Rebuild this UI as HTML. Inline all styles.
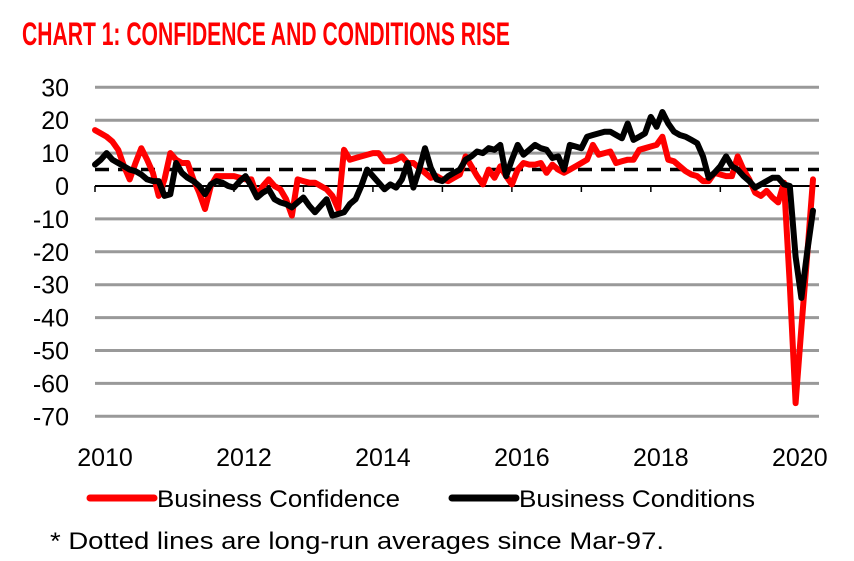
<!DOCTYPE html>
<html><head><meta charset="utf-8"><style>
html,body{margin:0;padding:0;background:#fff;}
svg{display:block;font-family:"Liberation Sans",sans-serif;}
</style></head><body>
<svg id="chart" width="854" height="561" viewBox="0 0 854 561" xmlns="http://www.w3.org/2000/svg">
<text x="22" y="45" fill="#ff0000" font-family="'Liberation Sans Narrow','Liberation Sans',sans-serif" font-weight="bold" font-size="32" textLength="488" lengthAdjust="spacingAndGlyphs">CHART 1: CONFIDENCE AND CONDITIONS RISE</text>
<g id="grid"></g>
<g id="yaxis"></g>
<g id="xaxis"></g>
<g id="series"></g>
<g>
<line x1="90" y1="498" x2="154" y2="498" stroke="#ff0000" stroke-width="7" stroke-linecap="round"/>
<text x="157" y="507" font-size="24" fill="#000" textLength="243" lengthAdjust="spacingAndGlyphs">Business Confidence</text>
<line x1="452" y1="498" x2="516" y2="498" stroke="#000" stroke-width="7" stroke-linecap="round"/>
<text x="519" y="507" font-size="24" fill="#000" textLength="236" lengthAdjust="spacingAndGlyphs">Business Conditions</text>
</g>
<text x="50" y="549" font-size="24" fill="#000" textLength="614" lengthAdjust="spacingAndGlyphs">* Dotted lines are long-run averages since Mar-97.</text>
</svg>
<script>
const yTicks = [30,20,10,0,-10,-20,-30,-40,-50,-60,-70];
const xYears = [2010,2012,2014,2016,2018,2020];
const avgLevel = [5];
const confidence = [17,16,15,13.5,11,6,2,7,11.5,8,4,-3,2,10,8,7,7,2,-2,-7,0,3,3,3,3,2.5,2,2,-3,0,2,0,-1,-4,-9,2,1.5,1,1,0,-1,-3,-7,11,8,8.5,9,9.5,10,10,7.5,7.5,8,9,7,7,5.5,4,2.5,3,2,1.5,2.5,3.5,9,6,3,0.5,5,2.5,6,3,0.5,5,7,6.5,6.5,7,4,6.5,5,4,5,6,7,8,12.5,9.5,10,10.5,7,7.5,8,8,11,11.5,12,12.5,15,8,7.5,6,4.5,3.5,3,1.5,1.5,4,3.5,3,3,9,5,2,-2,-3,-1.5,-3.5,-5,1,-30,-66,-43,-21,2];
const conditions = [6.5,8,10,8,7,6,5,4.5,3.5,2,1.5,1.5,-3,-2.5,7,4,2.5,1.5,0,-2.5,0.5,1.5,1,0,-0.5,1.5,3,0,-3.5,-2,-1,-4,-5,-5.5,-6.5,-5,-3.5,-6,-8,-6,-4,-9,-8.5,-8,-5.5,-4,0,5,3,1,-1,0.5,-0.5,2,7,-0.5,5,11.5,5.5,2,1.5,3,4,5,8,9,10.5,10,11.5,11,12.5,3,8,12.5,9.5,11,12.5,11.5,11,8.5,9,5,12.5,12,11.5,15,15.5,16,16.5,16.5,15.5,14.5,19,14,15,16,21,18,22.5,19,16.5,15.5,15,14,13,9,2.5,4,6,9,6,5,3,1.5,-0.5,0.5,1.5,2.5,2.5,0.5,0,-21.5,-34,-20,-7.5];

const NS='http://www.w3.org/2000/svg';
const X0=95, X1=819, MSTEP=5.79;
function yScale(v){ return 186 + (0 - v) * 3.29; }
function xMonth(m){ return X0 + m * MSTEP; }
function xYear(y){ return X0 + (y - 2010) * 12 * MSTEP; }
function mk(tag, attrs, parent){ const e=document.createElementNS(NS,tag); for(const k in attrs) e.setAttribute(k, attrs[k]); parent.appendChild(e); return e; }

const grid=document.getElementById('grid'), ya=document.getElementById('yaxis'), xa=document.getElementById('xaxis'), ser=document.getElementById('series');
yTicks.forEach(v=>{
  if(v!==0){
    const l=mk('line',{x1:X0,x2:X1,y1:yScale(v),y2:yScale(v),stroke:'#999','stroke-width':3},grid);
    
    
  }
  const t=mk('text',{x:69,y:yScale(v)+9,'text-anchor':'end','font-size':25,fill:'#000'},ya);
  t.textContent=v;
  
  
});
const z=mk('line',{x1:X0,x2:X1,y1:yScale(0),y2:yScale(0),stroke:'#000','stroke-width':2},xa);


for(let y=2010;y<=2020;y++){
  const tk=mk('line',{x1:xYear(y),x2:xYear(y),y1:yScale(0),y2:yScale(0)+6,stroke:'#000','stroke-width':1.5},xa);
  
  
}
xYears.forEach(y=>{
  const t=mk('text',{x:xYear(y)+10,y:466,'text-anchor':'middle','font-size':25,fill:'#000'},xa);
  t.textContent=y;
  
  
});
const av=mk('line',{x1:X0,x2:X1,y1:yScale(avgLevel[0]),y2:yScale(avgLevel[0]),stroke:'#000','stroke-width':3.5,'stroke-dasharray':'14 9'},ser);


function pts(arr){ return arr.map((v,i)=>xMonth(i).toFixed(1)+','+yScale(v).toFixed(1)).join(' '); }
const pc=mk('polyline',{points:pts(confidence),fill:'none',stroke:'#ff0000','stroke-width':6,'stroke-linejoin':'round','stroke-linecap':'round'},ser);


const pk=mk('polyline',{points:pts(conditions),fill:'none',stroke:'#000','stroke-width':6,'stroke-linejoin':'round','stroke-linecap':'round'},ser);


</script>
</body></html>
